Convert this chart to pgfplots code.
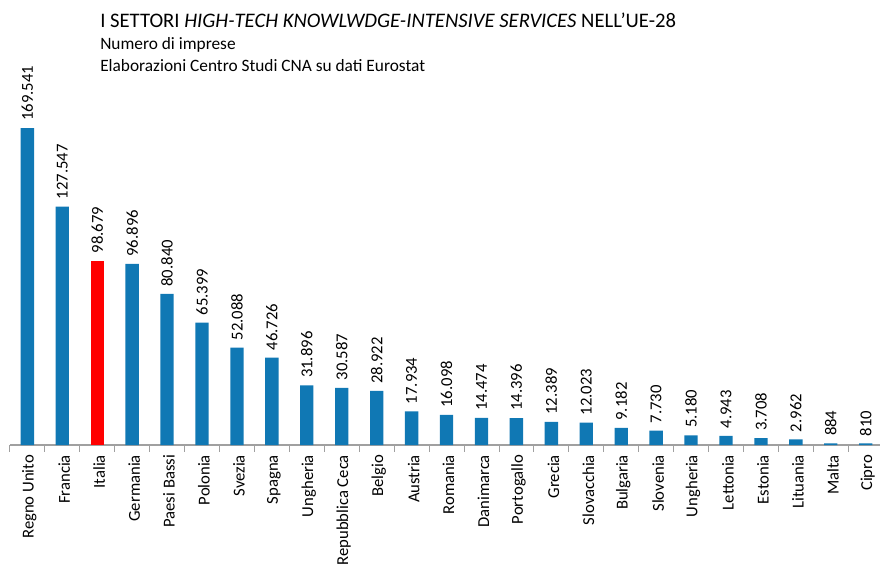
\documentclass[border=0pt]{standalone}
\usepackage{pgfplots}
\pgfplotsset{compat=1.18}
\usepackage{fontspec}
\setmainfont{Carlito}
\definecolor{barblue}{RGB}{16,120,180}
\definecolor{axgray}{RGB}{160,160,160}
\begin{document}
\begin{tikzpicture}
\path[use as bounding box] (0,0) rectangle (660pt,426pt);
\node[anchor=west,inner sep=0pt,font=\fontsize{15.5}{17}\selectfont] at (75pt,411pt) {I SETTORI \textit{HIGH-TECH KNOWLWDGE-INTENSIVE SERVICES} NELL'UE-28};
\node[anchor=west,inner sep=0pt,font=\fontsize{13}{15}\selectfont] at (75pt,392.25pt) {Numero di imprese};
\node[anchor=west,inner sep=0pt,font=\fontsize{13}{15}\selectfont] at (75pt,376.5pt) {Elaborazioni Centro Studi CNA su dati Eurostat};
\begin{axis}[
  at={(7.4pt,92.25pt)}, anchor=south west,
  scale only axis, width=655pt, height=252.4pt,
  xmin=-0.5, xmax=24.5, ymin=0, ymax=180000,
  ybar, bar width=10pt,
  axis y line=none,
  axis x line*=bottom,
  x axis line style={axgray, line width=0.8pt, -},
  xtick={0,...,24},
  major tick length=0pt,
  minor xtick={-0.5,0.5,...,24.5},
  minor tick length=5pt,
  tick align=outside,
  minor tick style={axgray, line width=0.6pt},
  xticklabels={Regno Unito,Francia,Italia,Germania,Paesi Bassi,Polonia,Svezia,Spagna,Ungheria,Repubblica Ceca,Belgio,Austria,Romania,Danimarca,Portogallo,Grecia,Slovacchia,Bulgaria,Slovenia,Ungheria,Lettonia,Estonia,Lituania,Malta,Cipro},
  x tick label style={rotate=90, anchor=east, font=\fontsize{12.5}{14}\selectfont, xshift=-4pt, yshift=-1.5pt},
  nodes near coords,
  nodes near coords style={rotate=90, anchor=west, font=\fontsize{12.5}{14}\selectfont, black, xshift=2pt},
  /pgf/number format/.cd, fixed, precision=0, 1000 sep={.}, assume math mode=true,
]
\addplot[fill=barblue, draw=none, bar shift=0pt] coordinates {
(0,169541) (1,127547) (3,96896) (4,80840) (5,65399) (6,52088) (7,46726) (8,31896) (9,30587) (10,28922) (11,17934) (12,16098) (13,14474) (14,14396) (15,12389) (16,12023) (17,9182) (18,7730) (19,5180) (20,4943) (21,3708) (22,2962) (23,884) (24,810)
};
\addplot[fill=red, draw=none, bar shift=0pt] coordinates {(2,98679)};
\end{axis}
\end{tikzpicture}
\end{document}
